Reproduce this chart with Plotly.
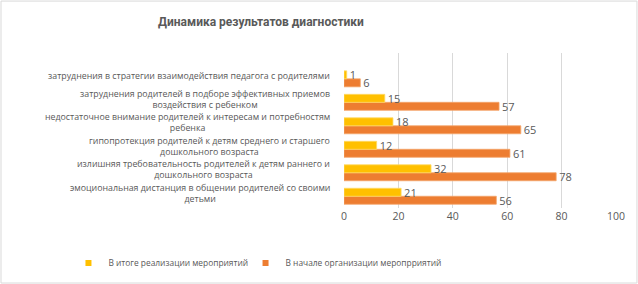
import plotly.graph_objects as go

categories = [
    "эмоциональная дистанция в общении родителей со своими<br>детьми",
    "излишняя требовательность родителей к детям раннего и<br>дошкольного возраста",
    "гипопротекция родителей к детям среднего и старшего<br>дошкольного возраста",
    "недостаточное внимание родителей к интересам и потребностям<br>ребенка",
    "затруднения родителей в подборе эффективных приемов<br>воздействия с ребенком",
    "затруднения в стратегии взаимодействия педагога с родителями",
]
after_values = [21, 32, 12, 18, 15, 1]
before_values = [56, 78, 61, 65, 57, 6]
x_ticks = [0, 20, 40, 60, 80, 100]
name_after = "В итоге реализации мероприятий"
name_before = "В начале организации меропрриятий"
color_after = "#FFC000"
color_before = "#ED7D31"

FONT = "Open Sans"
GRAY = "#595959"
ypos = list(range(len(categories)))

fig = go.Figure()
fig.add_trace(go.Bar(
    y=ypos, x=before_values, orientation="h", name=name_before, showlegend=False,
    marker=dict(color=color_before, line=dict(color="#F4A46A", width=0.8)),
    text=before_values, textposition="outside", cliponaxis=False, constraintext="none",
    textfont=dict(family=FONT, size=11, color=GRAY),
))
fig.add_trace(go.Bar(
    y=ypos, x=after_values, orientation="h", name=name_after, showlegend=False,
    marker=dict(color=color_after, line=dict(color="#FFD966", width=0.8)),
    text=after_values, textposition="outside", cliponaxis=False, constraintext="none",
    textfont=dict(family=FONT, size=11, color=GRAY),
))
# legend entries with small square swatches
for nm, col, lg in [(name_after, color_after, "legend"), (name_before, color_before, "legend2")]:
    fig.add_trace(go.Scatter(
        x=[None], y=[None], mode="markers", name=nm, legend=lg,
        marker=dict(symbol="square", size=6, color=col), showlegend=True,
    ))

for i, c in enumerate(categories):
    fig.add_annotation(
        x=0, y=i, xref="x", yref="y", text=c, showarrow=False,
        xanchor="right", yanchor="middle", align="center", xshift=-12, yshift=3,
        font=dict(family=FONT, size=8.8, color=GRAY),
    )

fig.add_shape(type="rect", xref="paper", yref="paper",
              x0=-1.261, x1=1.077, y0=-0.484, y1=1.335,
              line=dict(color="#D9D9D9", width=1), fillcolor="rgba(0,0,0,0)")

leg_common = dict(orientation="h", xanchor="left", y=-0.355, yanchor="middle",
                  font=dict(family=FONT, size=8.4, color=GRAY), itemwidth=30,
                  bgcolor="rgba(0,0,0,0)")

fig.update_layout(
    width=638, height=284,
    margin=dict(l=344, r=22, t=53, b=76, autoexpand=False),
    paper_bgcolor="white", plot_bgcolor="white",
    barmode="group", bargap=0.32, bargroupgap=0,
    showlegend=True,
    legend=dict(x=-1.013, **leg_common),
    legend2=dict(x=-0.362, **leg_common),
    title=dict(text="<b>Динамика результатов диагностики</b>", x=261/638, xanchor="center",
               y=1 - 22/284, yanchor="middle",
               font=dict(family="Roboto", size=12, color=GRAY)),
    xaxis=dict(range=[0, 100], tickvals=x_ticks, showgrid=True, gridcolor="#D9D9D9",
               zeroline=False, showline=False, ticks="",
               tickfont=dict(family=FONT, size=10.5, color=GRAY)),
    yaxis=dict(range=[-0.5, 6.1], showticklabels=False, showgrid=False, zeroline=False,
               ticks=""),
    font=dict(family=FONT, color=GRAY),
)

fig.write_html("out.html", post_script="document.body.style.margin='0';",
               config={"displayModeBar": False})
